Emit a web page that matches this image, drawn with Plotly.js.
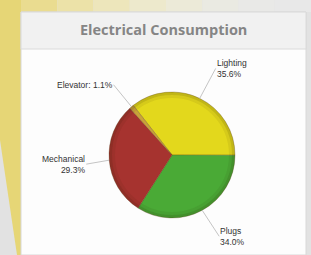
<!DOCTYPE html>
<html><head><meta charset="utf-8">
<script src="https://cdn.plot.ly/plotly-3.0.1.min.js"></script>
<style>html,body{margin:0;padding:0;background:#e4e4e4;}#chart{width:311px;height:255px;}</style>
</head><body><div id="chart"></div>
<script>
const labels = ["Lighting", "Plugs", "Mechanical", "Elevator"];
const values = [35.6, 34.0, 29.3, 1.1];
const colors = ["#e3d81c", "#4aaa36", "#a6332f", "#c9a23a"];
const labelText = ["Lighting<br>35.6%", "Plugs<br>34.0%", "Mechanical<br>29.3%", "Elevator: 1.1%"];
const chartTitle = "Electrical Consumption";

const W = 311, H = 255;
const cx = 172, cy = 155, R = 63;
const rotation = -38;
// label offsets (pixels from the slice edge point) and anchors
const labelOff = [[16, -30, "left"], [17, 26, "left"], [-23, 4, "right"], [-18, -22, "right"]];

const total = values.reduce((a, b) => a + b, 0);
let ang = rotation;
const annotations = [];
values.forEach((v, i) => {
  const span = v / total * 360;
  const mid = (ang + span / 2) * Math.PI / 180;
  ang += span;
  const px = cx + R * Math.sin(mid), py = cy - R * Math.cos(mid);
  annotations.push({
    x: px / W, y: 1 - py / H, xref: "paper", yref: "paper",
    text: labelText[i], showarrow: true, arrowhead: 0, arrowwidth: 0.8,
    arrowcolor: "#b5b5b5", ax: labelOff[i][0], ay: labelOff[i][1],
    xanchor: labelOff[i][2], yanchor: "middle", align: labelOff[i][2], standoff: 0, borderpad: 0,
    font: {family: "Liberation Sans, Arial, sans-serif", size: 8.5, color: "#333"}
  });
});
annotations.push({
  x: 164 / W, y: 1 - 29 / H, xref: "paper", yref: "paper", showarrow: false,
  xanchor: "center", yanchor: "middle",
  text: "<b>" + chartTitle + "</b>",
  font: {family: "Open Sans, sans-serif", size: 14.5, color: "#858585"}
});

const shapes = [
  {type: "path", xref: "paper", yref: "paper", layer: "below",
   path: "M0,1 L" + (21/W) + ",1 L" + (21/W) + ",0 L" + (17/W) + ",0 L0," + (1 - 140/H) + " Z",
   fillcolor: "#e6d676", line: {width: 0}}
];
const topSteps = ["#eadc90", "#ece2a8", "#ede6bb", "#ede9cc", "#ecead8", "#eaeae2", "#e9e9e7", "#e8e8e8"];
topSteps.forEach((c, i) => {
  const x0 = 21 + i * (290 / topSteps.length), x1 = 21 + (i + 1) * (290 / topSteps.length);
  shapes.push({type: "rect", xref: "paper", yref: "paper", layer: "below",
    x0: x0 / W, x1: x1 / W, y0: 1 - 12 / H, y1: 1, fillcolor: c, line: {width: 0}});
});
shapes.push(
  {type: "rect", xref: "paper", yref: "paper", layer: "below",
   x0: 21/W, x1: 306/W, y0: 0, y1: 1 - 12/H, fillcolor: "#fdfdfd", line: {color: "#d8d8d8", width: 1}},
  {type: "rect", xref: "paper", yref: "paper", layer: "below",
   x0: 21/W, x1: 306/W, y0: 1 - 49/H, y1: 1 - 12/H, fillcolor: "#f1f1f1", line: {color: "#dadada", width: 1}},
  {type: "circle", xref: "paper", yref: "paper", layer: "above",
   x0: (cx - R + 1.5)/W, x1: (cx + R - 1.5)/W, y0: 1 - (cy + R - 1.5)/H, y1: 1 - (cy - R + 1.5)/H,
   line: {color: "rgba(40,30,0,0.18)", width: 3}},
  {type: "circle", xref: "paper", yref: "paper", layer: "above",
   x0: (cx - R + 4.5)/W, x1: (cx + R - 4.5)/W, y0: 1 - (cy + R - 4.5)/H, y1: 1 - (cy - R + 4.5)/H,
   line: {color: "rgba(40,30,0,0.07)", width: 3}}
);

const data = [{
  type: "pie", labels: labels, values: values, sort: false, direction: "clockwise",
  rotation: rotation, textinfo: "none", hoverinfo: "label+percent",
  marker: {colors: colors, line: {color: "rgba(90,60,20,0.35)", width: 0.8}},
  domain: {x: [(cx - R) / W, (cx + R) / W], y: [1 - (cy + R) / H, 1 - (cy - R) / H]},
  showlegend: false
}];

const layout = {
  width: W, height: H, margin: {l: 0, r: 0, t: 0, b: 0},
  paper_bgcolor: "#e2e2e2", showlegend: false,
  shapes: shapes, annotations: annotations
};
Plotly.newPlot("chart", data, layout, {displayModeBar: false, staticPlot: true});
</script></body></html>
